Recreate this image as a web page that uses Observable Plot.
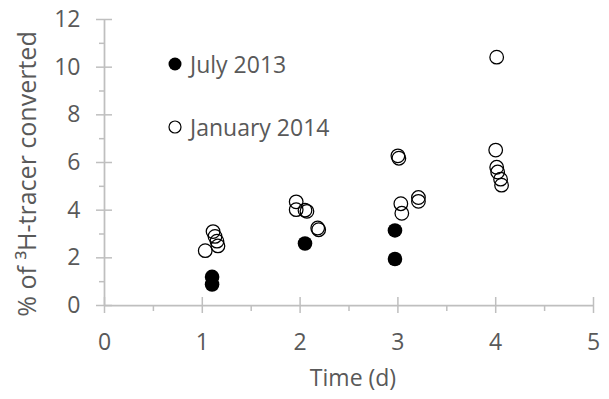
<!DOCTYPE html>
<html>
<head>
<meta charset="utf-8">
<script src="https://cdn.jsdelivr.net/npm/d3@7"></script>
<script src="https://cdn.jsdelivr.net/npm/@observablehq/plot@0.6"></script>
<style>
  body { margin: 0; background: white; }
  #wrap { position: relative; width: 609px; height: 399px; font-family: "Open Sans", sans-serif; }
  .leg { position: absolute; left: 0; top: 0; font-size: 23px; color: #595959; }
  .leg div { position: absolute; white-space: nowrap; display: flex; align-items: center; height: 28px; line-height: 28px; }
  .leg svg { margin-right: 8px; }
</style>
</head>
<body>
<div id="wrap"></div>
<script>
const seriesNames = ["July 2013", "January 2014"];
const julyX = [1.1, 1.1, 2.05, 2.97, 2.97];
const julyY = [1.2, 0.88, 2.6, 3.15, 1.95];
const janX = [1.03, 1.11, 1.13, 1.15, 1.16, 1.96, 1.96, 2.05, 2.07, 2.18, 2.19, 3.0, 3.01, 3.03, 3.04, 3.21, 3.21, 4.01, 4.0, 4.01, 4.02, 4.05, 4.06];
const janY = [2.3, 3.1, 2.9, 2.7, 2.5, 4.35, 4.02, 4.0, 3.95, 3.25, 3.18, 6.28, 6.18, 4.27, 3.87, 4.53, 4.37, 10.42, 6.52, 5.8, 5.6, 5.3, 5.05];
const xMajor = [0, 1, 2, 3, 4, 5];
const xMinor = [0.5, 1.5, 2.5, 3.5, 4.5];
const yMajor = [0, 2, 4, 6, 8, 10, 12];
const yMinor = [1, 3, 5, 7, 9, 11];
const xTitle = "Time (d)";
const yTitle = "% of ³H-tracer converted";

const july = julyX.map((x, i) => ({x, y: julyY[i]}));
const jan = janX.map((x, i) => ({x, y: janY[i]}));

const W = 609, H = 399, mL = 104, mR = 16, mT = 19, mB = 94;
const fw = W - mL - mR, fh = H - mT - mB;
const axisColor = "#bfbfbf", textColor = "#595959";

const chart = Plot.plot({
  width: W, height: H,
  marginLeft: mL, marginRight: mR, marginTop: mT, marginBottom: mB,
  x: {domain: [0, 5]},
  y: {domain: [0, 12]},
  style: {fontFamily: "'Open Sans', sans-serif", fontSize: "23px", color: textColor, background: "white"},
  marks: [
    Plot.ruleX([0], {stroke: axisColor, strokeWidth: 1.75}),
    Plot.ruleY([0], {stroke: axisColor, strokeWidth: 1.75}),
    Plot.tickY(yMajor, {y: d => d, insetLeft: -8, insetRight: fw - 8, stroke: axisColor, strokeWidth: 1.5}),
    Plot.tickY(yMinor, {y: d => d, insetLeft: -5, insetRight: fw, stroke: axisColor, strokeWidth: 1.5}),
    Plot.tickX(xMajor, {x: d => d, insetTop: fh - 8, insetBottom: -8, stroke: axisColor, strokeWidth: 1.5}),
    Plot.tickX(xMinor, {x: d => d, insetTop: fh, insetBottom: -6, stroke: axisColor, strokeWidth: 1.5}),
    Plot.axisY({ticks: yMajor, tickSize: 0, tickPadding: 24, tickFormat: d3.format("d"), label: null, fill: textColor, fontSize: 23}),
    Plot.axisX({ticks: xMajor, tickSize: 0, tickPadding: 28, tickFormat: d3.format("d"), label: null, fill: textColor, fontSize: 23}),
    Plot.text([xTitle], {frameAnchor: "bottom", dx: 4, dy: 80, text: d => d, fill: textColor, fontSize: 23}),
    Plot.text([yTitle], {frameAnchor: "left", textAnchor: "middle", dx: -77, dy: 11.5, rotate: -90, text: d => d, fill: textColor, fontSize: 25}),
    Plot.dot(jan, {x: "x", y: "y", r: 6.8, stroke: "black", strokeWidth: 1.25, fill: "none"}),
    Plot.dot(july, {x: "x", y: "y", r: 7.3, fill: "black", stroke: "none"})
  ]
});

const wrap = document.getElementById("wrap");
wrap.appendChild(chart);
const leg = document.createElement("div");
leg.className = "leg";
leg.innerHTML = `
  <div style="left:168px; top:50px;"><svg width="14" height="14"><circle cx="7" cy="7" r="6.5" fill="black"/></svg>${seriesNames[0]}</div>
  <div style="left:168px; top:113px;"><svg width="14" height="14"><circle cx="7" cy="7" r="6" fill="none" stroke="black" stroke-width="1.2"/></svg>${seriesNames[1]}</div>`;
wrap.appendChild(leg);
</script>
</body>
</html>
